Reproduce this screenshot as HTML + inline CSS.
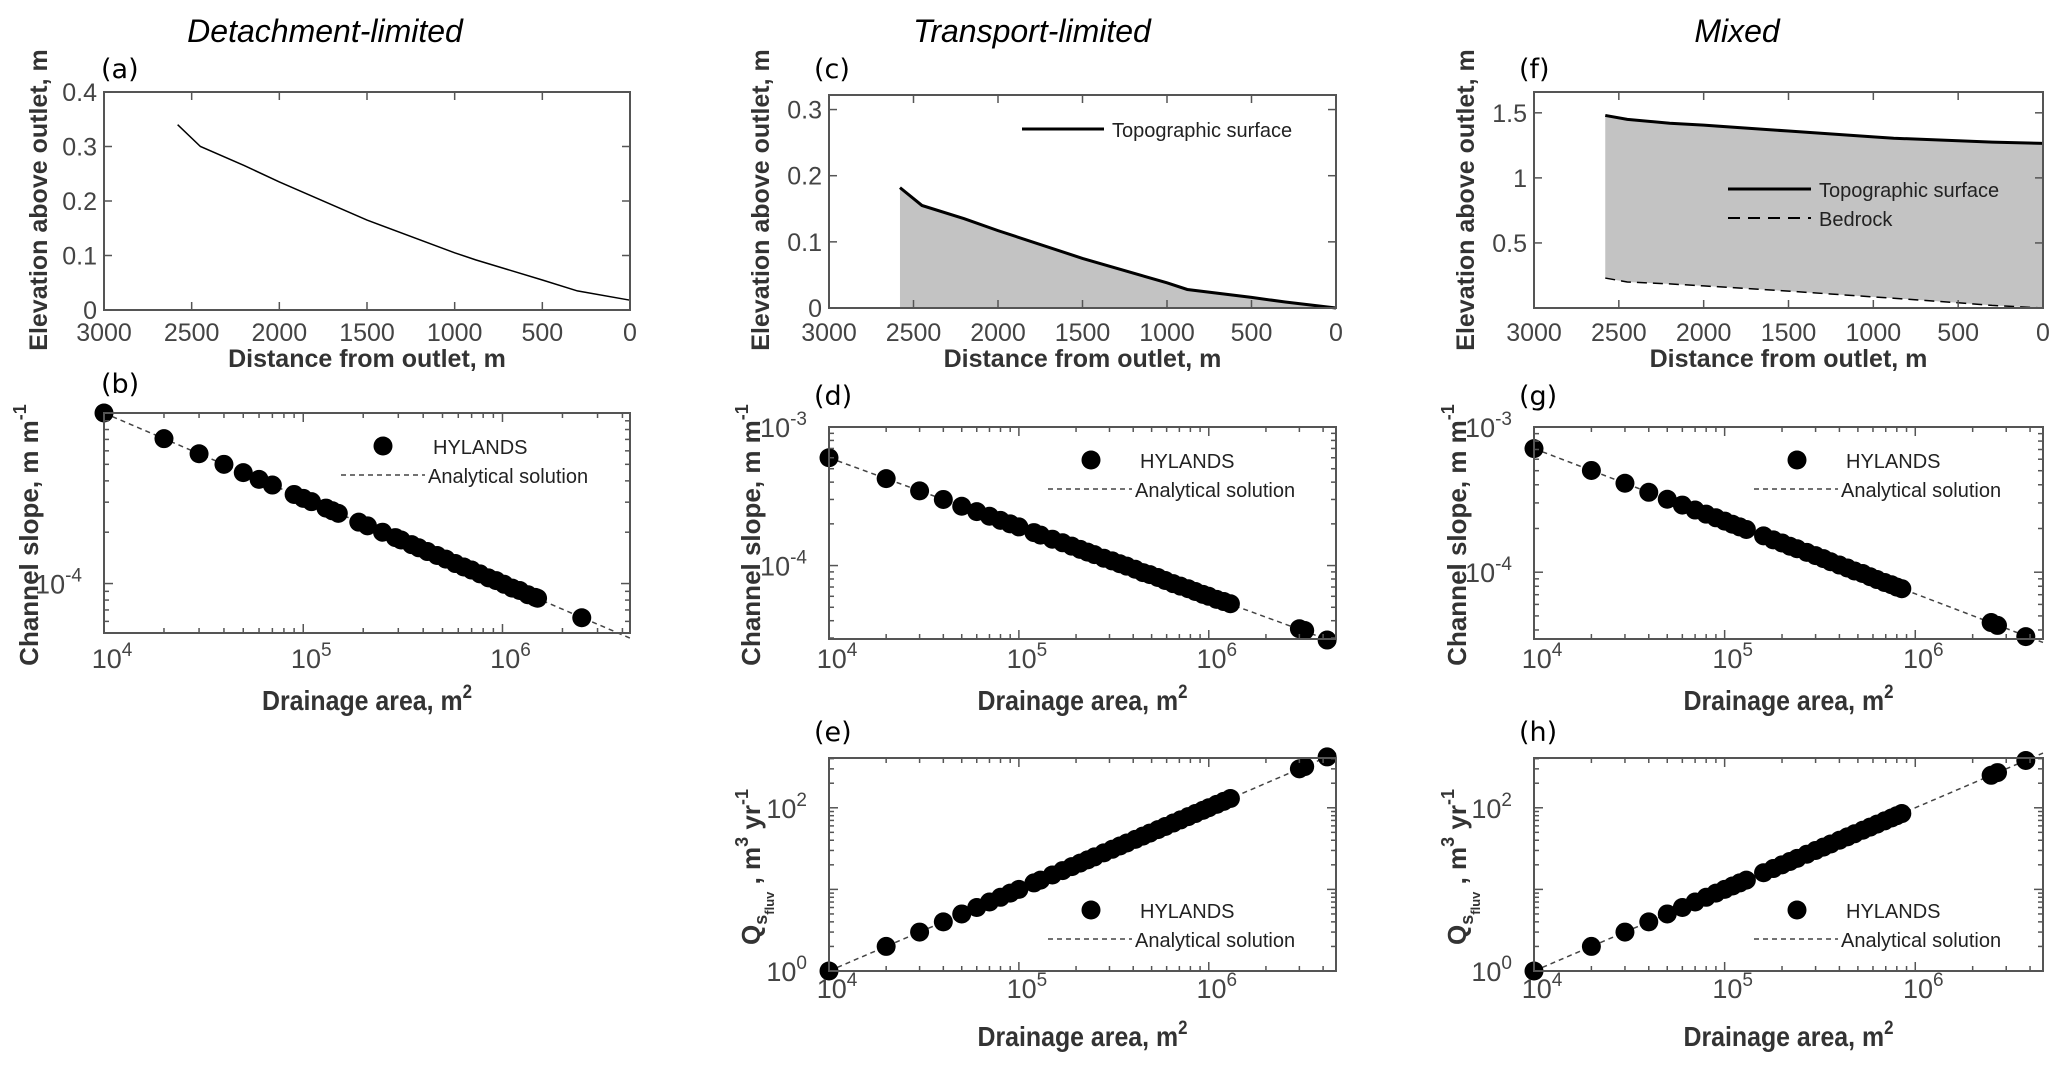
<!DOCTYPE html>
<html><head><meta charset="utf-8"><style>
html,body{margin:0;padding:0;background:#fff;}
svg{display:block;}
</style></head><body>
<svg id="fig" width="2067" height="1078" viewBox="0 0 2067 1078" xmlns="http://www.w3.org/2000/svg" font-family="Liberation Sans, Arial, sans-serif">
<text x="325" y="42" font-size="32" font-style="italic" text-anchor="middle">Detachment-limited</text>
<text x="1032" y="42" font-size="32" font-style="italic" text-anchor="middle">Transport-limited</text>
<text x="1737" y="42" font-size="32" font-style="italic" text-anchor="middle">Mixed</text>
</svg>
<script>
// ---- data ----
const profDist = [2580, 2450, 2200, 2000, 1500, 1000, 880, 500, 300, 0];
const profA = [0.34, 0.30, 0.265, 0.235, 0.165, 0.105, 0.092, 0.055, 0.035, 0.018];
const profC = [0.182, 0.155, 0.135, 0.117, 0.075, 0.038, 0.028, 0.016, 0.009, 0.0];
const topoF = [1.48, 1.45, 1.42, 1.405, 1.36, 1.315, 1.305, 1.285, 1.275, 1.265];
const bedF = [0.23, 0.20, 0.185, 0.17, 0.13, 0.085, 0.075, 0.04, 0.02, 0.0];
const distTicks = [3000, 2500, 2000, 1500, 1000, 500, 0];
const yTicksA = [0, 0.1, 0.2, 0.3, 0.4];
const yTicksC = [0, 0.1, 0.2, 0.3];
const yTicksF = [0.5, 1, 1.5];
const yTickLabelsF = ['0.5', '1', '1.5'];

const areaB = [1e4,2e4,3e4,4e4,5e4,6e4,7e4,9e4,1e5,1.1e5,1.3e5,1.4e5,1.5e5,1.9e5,2.1e5,2.5e5,2.9e5,3.1e5,3.5e5,3.8e5,4.2e5,4.7e5,5.2e5,5.8e5,6.4e5,7.0e5,7.7e5,8.5e5,9.3e5,1.02e6,1.12e6,1.22e6,1.34e6,1.46e6,1.5e6,2.5e6];
const slopeB = [10e-4,7.07e-4,5.77e-4,5.0e-4,4.47e-4,4.08e-4,3.78e-4,3.33e-4,3.16e-4,3.02e-4,2.77e-4,2.67e-4,2.58e-4,2.29e-4,2.18e-4,2.0e-4,1.86e-4,1.80e-4,1.69e-4,1.62e-4,1.54e-4,1.46e-4,1.39e-4,1.31e-4,1.25e-4,1.20e-4,1.14e-4,1.08e-4,1.04e-4,0.99e-4,0.94e-4,0.91e-4,0.86e-4,0.83e-4,0.82e-4,0.63e-4];
const areaD = [1e4,2e4,3e4,4e4,5e4,6e4,7e4,8e4,9e4,1e5,1.2e5,1.3e5,1.5e5,1.7e5,1.9e5,2.1e5,2.3e5,2.5e5,2.8e5,3.1e5,3.4e5,3.7e5,4.1e5,4.5e5,4.9e5,5.4e5,5.9e5,6.5e5,7.1e5,7.8e5,8.5e5,9.3e5,1.0e6,1.1e6,1.2e6,1.3e6,3.0e6,3.2e6,4.2e6];
const slopeD = [6.0e-4,4.24e-4,3.46e-4,3.0e-4,2.68e-4,2.45e-4,2.27e-4,2.12e-4,2.0e-4,1.90e-4,1.73e-4,1.66e-4,1.55e-4,1.46e-4,1.38e-4,1.31e-4,1.25e-4,1.2e-4,1.13e-4,1.08e-4,1.03e-4,0.99e-4,0.94e-4,0.89e-4,0.86e-4,0.82e-4,0.78e-4,0.74e-4,0.71e-4,0.68e-4,0.65e-4,0.62e-4,0.60e-4,0.57e-4,0.55e-4,0.53e-4,0.35e-4,0.34e-4,0.29e-4];
const qsE = [1,2,3,4,5,6,7,8,9,10,12,13,15,17,19,21,23,25,28,31,34,37,41,45,49,54,59,65,71,78,85,93,100,110,120,130,300,320,420];
const areaG = [1e4,2e4,3e4,4e4,5e4,6e4,7e4,8e4,9e4,1e5,1.1e5,1.2e5,1.3e5,1.6e5,1.8e5,2.0e5,2.2e5,2.4e5,2.7e5,3.0e5,3.3e5,3.6e5,4.0e5,4.4e5,4.8e5,5.3e5,5.8e5,6.3e5,6.9e5,7.5e5,8.0e5,8.5e5,2.5e6,2.7e6,3.8e6];
const slopeG = [7.1e-4,5.02e-4,4.10e-4,3.55e-4,3.18e-4,2.90e-4,2.68e-4,2.51e-4,2.37e-4,2.25e-4,2.14e-4,2.05e-4,1.97e-4,1.78e-4,1.67e-4,1.59e-4,1.51e-4,1.45e-4,1.37e-4,1.30e-4,1.24e-4,1.18e-4,1.12e-4,1.07e-4,1.02e-4,0.98e-4,0.93e-4,0.89e-4,0.85e-4,0.82e-4,0.79e-4,0.77e-4,0.45e-4,0.43e-4,0.36e-4];
const qsH = [1,2,3,4,5,6,7,8,9,10,11,12,13,16,18,20,22,24,27,30,33,36,40,44,48,53,58,63,69,75,80,85,250,270,380];
const analyticCoefSlope = [1.0e-3, 6.0e-4, 7.1e-4];
const analyticCoefQs = [1.0, 1.0];
const logXTicks = [4, 5, 6];

const NS = 'http://www.w3.org/2000/svg';
const svg = document.getElementById('fig');
function mk(tag, attrs, parent) {
  const e = document.createElementNS(NS, tag);
  for (const k in attrs) e.setAttribute(k, attrs[k]);
  (parent || svg).appendChild(e);
  return e;
}
const AX = '#555', TXT = '#444';

function makeAxes(name, L, R, T, B, xmin, xmax, ymin, ymax, xlog, ylog) {
  const g = mk('g', {});
  
  
  const sx = v => { const t = xlog ? Math.log10(v) : v; return L + (t - xmin) / (xmax - xmin) * (R - L); };
  const sy = v => { const t = ylog ? Math.log10(v) : v; return B - (t - ymin) / (ymax - ymin) * (B - T); };
  return { g, sx, sy, L, R, T, B, xmin, xmax, ymin, ymax };
}
function frame(a) {
  const r = mk('rect', { x: a.L, y: a.T, width: a.R - a.L, height: a.B - a.T, fill: 'none', stroke: AX, 'stroke-width': 2 }, a.g);
  
  
}
function tickX(a, px, len) {
  mk('line', { x1: px, x2: px, y1: a.B, y2: a.B - len, stroke: AX, 'stroke-width': 1.5 }, a.g);
  mk('line', { x1: px, x2: px, y1: a.T, y2: a.T + len, stroke: AX, 'stroke-width': 1.5 }, a.g);
}
function tickY(a, py, len) {
  mk('line', { x1: a.L, x2: a.L + len, y1: py, y2: py, stroke: AX, 'stroke-width': 1.5 }, a.g);
  mk('line', { x1: a.R, x2: a.R - len, y1: py, y2: py, stroke: AX, 'stroke-width': 1.5 }, a.g);
}
function linTicksX(a, vals, yb) {
  vals.forEach(v => {
    const px = a.sx(v); tickX(a, px, 8);
    const t = mk('text', { x: px, y: yb, 'font-size': 25, fill: TXT, 'text-anchor': 'middle' }, a.g);
    t.textContent = v;
    
    
  });
}
function linTicksY(a, vals, labels) {
  vals.forEach((v, i) => {
    const py = a.sy(v); tickY(a, py, 8);
    const t = mk('text', { x: a.L - 7, y: py + 9, 'font-size': 25, fill: TXT, 'text-anchor': 'end' }, a.g);
    t.textContent = labels ? labels[i] : v;
    
    
  });
}
function powLabel(a, x, y, exp, anchor) {
  const t = mk('text', { x: x, y: y, 'font-size': 27, fill: TXT, 'text-anchor': anchor }, a.g);
  
  
  const s1 = mk('tspan', {}, t); s1.textContent = '10';
  const s2 = mk('tspan', { dy: -12, 'font-size': 19 }, t); s2.textContent = exp;
}
function logTicksX(a, yb) {
  for (let d = Math.floor(a.xmin); d < a.xmax; d++) {
    for (let m = 1; m < 10; m++) {
      const lv = d + Math.log10(m);
      if (lv < a.xmin - 1e-9 || lv > a.xmax) continue;
      tickX(a, a.sx(Math.pow(10, lv)), m === 1 ? 9 : 5);
    }
  }
  logXTicks.forEach(e => powLabel(a, a.sx(Math.pow(10, e)) + 8, yb, String(e), 'middle'));
}
function logTicksY(a, labels) {
  for (let d = Math.floor(a.ymin); d < a.ymax; d++) {
    for (let m = 1; m < 10; m++) {
      const lv = d + Math.log10(m);
      if (lv < a.ymin - 1e-9 || lv > a.ymax + 1e-9) continue;
      tickY(a, a.sy(Math.pow(10, lv)), m === 1 ? 9 : 5);
    }
  }
  labels.forEach(e => powLabel(a, a.L - 22, a.sy(Math.pow(10, e)) + 10, String(e), 'end'));
}
function xLabel(a, txt, y, narrow) {
  const t = mk('text', { x: (a.L + a.R) / 2, y: y, 'font-size': narrow ? 28 : 25, 'font-weight': 'bold', fill: '#333', 'text-anchor': 'middle' }, svg);
  
  
  if (narrow) {
    t.setAttribute('textLength', 210); t.setAttribute('lengthAdjust', 'spacingAndGlyphs');
    const s1 = mk('tspan', {}, t); s1.textContent = 'Drainage area, m';
    const s2 = mk('tspan', { dy: -12, 'font-size': 19 }, t); s2.textContent = '2';
  } else t.textContent = txt;
}
function yLabel(cx, cy, kind) {
  const t = mk('text', { x: 0, y: 0, 'font-size': 25, 'font-weight': 'bold', fill: '#333', 'text-anchor': 'middle', transform: `translate(${cx},${cy}) rotate(-90)` }, svg);
  
  
  if (kind === 'elev') t.textContent = 'Elevation above outlet, m';
  else if (kind === 'slope') {
    t.setAttribute('font-size', 26);
    const a = mk('tspan', {}, t); a.textContent = 'Channel slope, m m';
    const b = mk('tspan', { dy: -12, 'font-size': 18 }, t); b.textContent = '-1';
  } else {
    t.setAttribute('font-size', 26);
    const a = mk('tspan', {}, t); a.textContent = 'Q';
    const b = mk('tspan', { dy: 7, 'font-size': 18 }, t); b.textContent = 's';
    const c = mk('tspan', { dy: 7, 'font-size': 13 }, t); c.textContent = 'fluv';
    const d = mk('tspan', { dy: -14 }, t); d.textContent = ' , m';
    const e = mk('tspan', { dy: -12, 'font-size': 18 }, t); e.textContent = '3';
    const f = mk('tspan', { dy: 12 }, t); f.textContent = ' yr';
    const h = mk('tspan', { dy: -12, 'font-size': 18 }, t); h.textContent = '-1';
  }
}
function panelLetter(x, y, s) {
  const t = mk('text', { x: x, y: y, 'font-size': 27, 'font-family': 'DejaVu Sans, sans-serif', fill: '#000' }, svg);
  t.textContent = s;
  
  
}
function profileLine(a, ys, dash, w) {
  const p = profDist.map((d, i) => a.sx(d) + ',' + a.sy(ys[i])).join(' ');
  const l = mk('polyline', { points: p, fill: 'none', stroke: '#000', 'stroke-width': w, 'stroke-dasharray': dash || 'none' }, a.g);
  return l;
}
function fillBetween(a, top, bot) {
  const pts = profDist.map((d, i) => a.sx(d) + ',' + a.sy(top[i]));
  for (let i = profDist.length - 1; i >= 0; i--) pts.push(a.sx(profDist[i]) + ',' + a.sy(bot ? bot[i] : 0));
  const f = mk('polygon', { points: pts.join(' '), fill: '#c3c3c3', stroke: 'none' }, a.g);
  
  
}
function scatter(a, xs, ys) {
  xs.forEach((x, i) => {
    const c = mk('circle', { cx: a.sx(x), cy: a.sy(ys[i]), r: 9.5, fill: '#000' }, a.g);
    
    
  });
}
function analytic(a, coef, expo) {
  const pts = [];
  for (let k = 0; k <= 40; k++) {
    const lx = a.xmin + (a.xmax - a.xmin) * k / 40;
    const A = Math.pow(10, lx);
    pts.push(a.sx(A) + ',' + a.sy(coef * Math.pow(A / 1e4, expo)));
  }
  const l = mk('polyline', { points: pts.join(' '), fill: 'none', stroke: '#444', 'stroke-width': 1.5, 'stroke-dasharray': '5,4' }, a.g);
  
  
}
function legendScatter(mx, my, tx) {
  const c = mk('circle', { cx: mx, cy: my, r: 9.5, fill: '#000' });
  
  
  const t1 = mk('text', { x: tx, y: my + 8, 'font-size': 20, fill: '#222' }); t1.textContent = 'HYLANDS';
  
  
  const l = mk('line', { x1: tx - 92, x2: tx - 8, y1: my + 29, y2: my + 29, stroke: '#444', 'stroke-width': 1.5, 'stroke-dasharray': '5,4' });
  
  
  const t2 = mk('text', { x: tx - 5, y: my + 37, 'font-size': 20, fill: '#222' }); t2.textContent = 'Analytical solution';
  
  
}

// ---- row 1 ----
const pa = makeAxes('panel-a', 104, 630, 92, 310, 3000, 0, 0, 0.4, false, false);
profileLine(pa, profA, null, 1.5);
frame(pa); linTicksX(pa, distTicks, 341); linTicksY(pa, yTicksA);

const pc = makeAxes('panel-c', 829, 1336, 95, 308, 3000, 0, 0, 0.322, false, false);
fillBetween(pc, profC, null);
profileLine(pc, profC, null, 3);
frame(pc); linTicksX(pc, distTicks, 341); linTicksY(pc, yTicksC);
mk('line', { x1: 1022, x2: 1104, y1: 129, y2: 129, stroke: '#000', 'stroke-width': 3 });
{ const t = mk('text', { x: 1112, y: 137, 'font-size': 20, fill: '#222' }); t.textContent = 'Topographic surface';
    }

const pf = makeAxes('panel-f', 1534, 2043, 92, 308, 3000, 0, 0, 1.66, false, false);
fillBetween(pf, topoF, bedF);
profileLine(pf, topoF, null, 3);
profileLine(pf, bedF, '10,6', 1.5);
frame(pf); linTicksX(pf, distTicks, 341); linTicksY(pf, yTicksF, yTickLabelsF);
mk('line', { x1: 1728, x2: 1811, y1: 189, y2: 189, stroke: '#000', 'stroke-width': 3 });
mk('line', { x1: 1728, x2: 1811, y1: 218, y2: 218, stroke: '#000', 'stroke-width': 2, 'stroke-dasharray': '12,8' });
{ const t = mk('text', { x: 1819, y: 197, 'font-size': 20, fill: '#222' }); t.textContent = 'Topographic surface';
   
  const t2 = mk('text', { x: 1819, y: 226, 'font-size': 20, fill: '#222' }); t2.textContent = 'Bedrock';
    }

[pa, pc, pf].forEach(a => xLabel(a, 'Distance from outlet, m', 367, false));
yLabel(47, 200, 'elev'); yLabel(769, 200, 'elev'); yLabel(1474, 200, 'elev');
panelLetter(101, 78, '(a)'); panelLetter(814, 78, '(c)'); panelLetter(1519, 78, '(f)');

// ---- row 2 ----
const pb = makeAxes('panel-b', 104, 630, 413, 633, 4, 6.64, -4.29, -3.0, true, true);
analytic(pb, analyticCoefSlope[0], -0.5); scatter(pb, areaB, slopeB);
frame(pb); logTicksX(pb, 668); logTicksY(pb, [-4]);
legendScatter(383, 446, 433);

const pd = makeAxes('panel-d', 829, 1336, 427, 639, 4, 6.67, -4.53, -3.0, true, true);
analytic(pd, analyticCoefSlope[1], -0.5); scatter(pd, areaD, slopeD);
frame(pd); logTicksX(pd, 668); logTicksY(pd, [-4, -3]);
legendScatter(1091, 460, 1140);

const pg = makeAxes('panel-g', 1534, 2043, 427, 639, 4, 6.67, -4.46, -3.0, true, true);
analytic(pg, analyticCoefSlope[2], -0.5); scatter(pg, areaG, slopeG);
frame(pg); logTicksX(pg, 668); logTicksY(pg, [-4, -3]);
legendScatter(1797, 460, 1846);

[pb, pd, pg].forEach(a => xLabel(a, '', 710, true));
yLabel(38, 535, 'slope'); yLabel(760, 535, 'slope'); yLabel(1466, 535, 'slope');
panelLetter(101, 393, '(b)'); panelLetter(814, 405, '(d)'); panelLetter(1519, 405, '(g)');

// ---- row 3 ----
const pe = makeAxes('panel-e', 829, 1336, 758, 971, 4, 6.67, 0, 2.61, true, true);
analytic(pe, analyticCoefQs[0], 1); scatter(pe, areaD, qsE);
frame(pe); logTicksX(pe, 998); logTicksY(pe, [0, 2]);
legendScatter(1091, 910, 1140);

const ph = makeAxes('panel-h', 1534, 2043, 758, 971, 4, 6.67, 0, 2.61, true, true);
analytic(ph, analyticCoefQs[1], 1); scatter(ph, areaG, qsH);
frame(ph); logTicksX(ph, 998); logTicksY(ph, [0, 2]);
legendScatter(1797, 910, 1846);

[pe, ph].forEach(a => xLabel(a, '', 1046, true));
yLabel(760, 867, 'qs'); yLabel(1466, 867, 'qs');
panelLetter(814, 741, '(e)'); panelLetter(1519, 741, '(h)');
</script>
</body></html>
